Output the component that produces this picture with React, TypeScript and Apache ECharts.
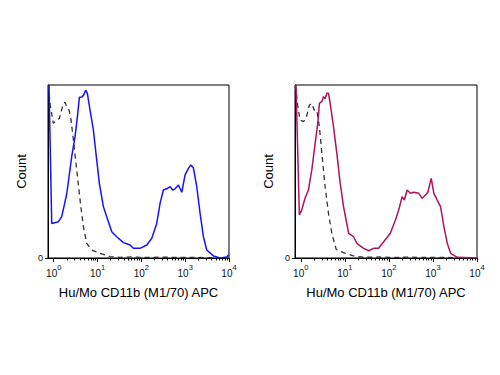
import React, { useEffect, useRef } from "react";
import * as echarts from "echarts";

// Left panel (blue stained sample)
const blueX = [0.78, 0.9, 1.28, 1.52, 1.98, 2.57, 3.06, 3.47, 3.85, 4.35, 4.75, 5.37, 5.86, 6.74, 8.03, 9.58, 11.0, 13.6, 16.2, 21.1, 27.4, 38.9, 55.2, 65.8, 93.3, 133, 173, 224, 267, 318, 380, 452, 520, 589, 701, 836, 995, 1186, 1341, 1542, 1837, 2188, 2606, 3105, 4412, 6266, 8892, 10000];
const blueY = [100, 20, 21, 23.9, 37, 58.6, 70, 81.7, 92.9, 93, 94, 97, 95, 85.5, 74, 56.6, 43, 29.7, 23.9, 15.2, 12.3, 8.9, 7.5, 5.6, 5.6, 7.5, 11.4, 20, 31.6, 39.3, 40, 41.2, 39.3, 40, 42.2, 38, 48, 51.8, 53.8, 52, 41.2, 25.8, 12.3, 4.6, 1.2, 0, 0.6, 2];
// Left panel isotype control (dashed)
const isoLeftX = [0.76, 0.82, 0.98, 1.17, 1.35, 1.66, 1.81, 1.98, 2.24, 2.48, 2.81, 3.35, 3.99, 4.75, 5.66, 7.36, 11.4, 19.3, 32.7, 60, 120, 300, 700, 1500, 3500, 10000];
const isoLeftY = [100, 89.4, 77.8, 79.8, 80.7, 89.4, 90, 87.5, 85.5, 80, 68.2, 50.9, 33.5, 18.1, 8.5, 4.6, 2.7, 0.8, 0.4, 0.6, 0.3, 0.5, 0.3, 0.4, 0.2, 0];
// Right panel (magenta stained sample)
const magX = [0.78, 0.93, 1.05, 1.25, 1.49, 1.78, 2.12, 2.43, 2.65, 3.01, 3.28, 3.57, 3.9, 4.26, 4.65, 5.53, 6.59, 7.85, 9.35, 12.2, 15.8, 18.8, 26.7, 34.7, 45.1, 58.6, 76.2, 108, 141, 167, 200, 225, 259, 309, 367, 478, 569, 678, 766, 914, 1050, 1250, 1489, 1774, 2113, 2518, 3573, 10000];
const magY = [100, 24.9, 27.7, 34.5, 39.3, 50.9, 66.3, 77.9, 89.4, 90.5, 93.3, 92, 95.2, 95.2, 89.4, 75.9, 60.5, 43.2, 29.7, 14.3, 12.3, 8.5, 5.6, 4.2, 5.6, 5.6, 9.4, 14.3, 22, 27.7, 35.5, 33.5, 39.3, 37.4, 38, 37.4, 34.5, 36.4, 38, 46, 37.4, 33.5, 29.7, 18.1, 8.5, 2.7, 0.4, 0];
// Right panel isotype control (dashed)
const isoRightX = [0.76, 0.84, 0.96, 1.15, 1.32, 1.57, 1.78, 2.01, 2.31, 2.65, 3.01, 3.57, 4.26, 5.07, 6.37, 9.35, 15.8, 26.7, 60, 120, 300, 700, 1500, 3500, 10000];
const isoRightY = [100, 89.4, 79.8, 78.8, 80.7, 88.4, 89.4, 85.5, 85.5, 75.9, 60.5, 41.2, 25.8, 14.3, 5, 3.1, 1.2, 0.4, 0.6, 0.3, 0.5, 0.3, 0.4, 0.2, 0];

const majorTicks = [1, 10, 100, 1000, 10000];
const minorTicks = [2, 3, 4, 5, 6, 7, 8, 9, 20, 30, 40, 50, 60, 70, 80, 90, 200, 300, 400, 500, 600, 700, 800, 900, 2000, 3000, 4000, 5000, 6000, 7000, 8000, 9000];
const xTitle = "Hu/Mo CD11b (M1/70) APC";
const yTitle = "Count";

const X_MIN = 0.74;
const X_MAX = 10000;

function pairs(xs: number[], ys: number[]) {
  return xs.map((x, i) => [x, ys[i]]);
}

const FONT = "Liberation Sans, Arial, sans-serif";

export default function App() {
  const ref = useRef<HTMLDivElement>(null);
  useEffect(() => {
    if (!ref.current) return;
    const chart = echarts.init(ref.current, undefined, { renderer: "svg" });
    const grids = [
      { left: 48, top: 85, width: 181, height: 173 },
      { left: 295, top: 85, width: 182, height: 173 },
    ];
    const xAxes: any[] = [];
    const yAxes: any[] = [];
    grids.forEach((g, gi) => {
      xAxes.push({
        type: "log",
        logBase: 10,
        gridIndex: gi,
        min: X_MIN,
        max: X_MAX,
        name: xTitle,
        nameLocation: "middle",
        nameGap: 28,
        nameTextStyle: { fontFamily: FONT, fontSize: 13, color: "#000" },
        axisLine: { show: true, lineStyle: { color: "#000", width: 1 } },
        axisTick: { show: true, length: 4, customValues: majorTicks, lineStyle: { color: "#000" } },
        splitLine: { show: false },
        axisLabel: {
          show: true,
          customValues: majorTicks,
          margin: 5,
          fontFamily: FONT,
          color: "#111",
          formatter: (v: number) => `{a|10}{b|${Math.round(Math.log10(v))}}`,
          rich: {
            a: { fontSize: 10, fontFamily: FONT, color: "#111", lineHeight: 15, verticalAlign: "bottom" },
            b: { fontSize: 7.5, fontFamily: FONT, color: "#111", lineHeight: 9, verticalAlign: "top" },
          },
        },
      });
      xAxes.push({
        type: "log",
        logBase: 10,
        gridIndex: gi,
        min: X_MIN,
        max: X_MAX,
        position: "bottom",
        axisLine: { show: false },
        axisTick: { show: true, length: 2.5, customValues: minorTicks, lineStyle: { color: "#000" } },
        axisLabel: { show: false },
        splitLine: { show: false },
      });
      yAxes.push({
        type: "value",
        gridIndex: gi,
        min: 0,
        max: 100,
        name: yTitle,
        nameLocation: "middle",
        nameGap: 20,
        nameRotate: 90,
        nameTextStyle: { fontFamily: FONT, fontSize: 13, color: "#000" },
        axisLine: { show: true, lineStyle: { color: "#000", width: 1 } },
        axisTick: { show: true, length: 3, customValues: [0], lineStyle: { color: "#000" } },
        axisLabel: { show: true, customValues: [0], margin: 5, fontFamily: FONT, fontSize: 9, color: "#111" },
        splitLine: { show: false },
      });
    });
    const dashed = { color: "#333", width: 1.3, type: [5, 4] as any };
    chart.setOption({
      animation: false,
      backgroundColor: "#fff",
      grid: grids.map((g) => ({ ...g, show: true, borderColor: "#000", borderWidth: 1, backgroundColor: "transparent" })),
      xAxis: xAxes,
      yAxis: yAxes,
      series: [
        { type: "line", xAxisIndex: 0, yAxisIndex: 0, data: pairs(isoLeftX, isoLeftY), showSymbol: false, smooth: false, lineStyle: dashed, z: 2 },
        { type: "line", xAxisIndex: 0, yAxisIndex: 0, data: pairs(blueX, blueY), showSymbol: false, lineStyle: { color: "#1414ff", width: 1.5 }, z: 3 },
        { type: "line", xAxisIndex: 2, yAxisIndex: 1, data: pairs(isoRightX, isoRightY), showSymbol: false, lineStyle: dashed, z: 2 },
        { type: "line", xAxisIndex: 2, yAxisIndex: 1, data: pairs(magX, magY), showSymbol: false, lineStyle: { color: "#b0125e", width: 1.5 }, z: 3 },
      ],
    });
    return () => chart.dispose();
  }, []);
  return <div ref={ref} style={{ width: 500, height: 375, position: "absolute", left: 0, top: 0 }} />;
}
